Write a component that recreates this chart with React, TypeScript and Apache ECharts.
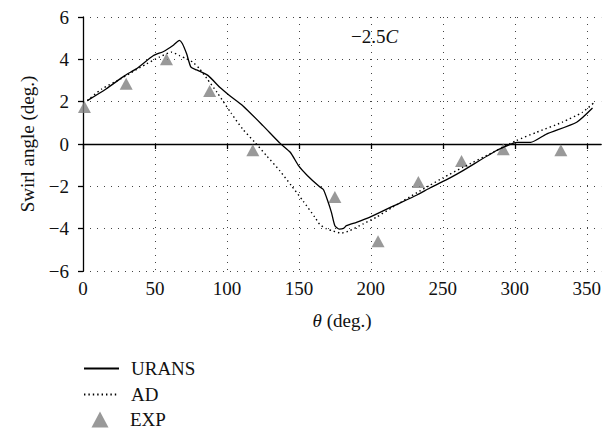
import React, { useEffect, useRef } from 'react';
import * as echarts from 'echarts';

const xTicks = [0, 50, 100, 150, 200, 250, 300, 350];

const uransTheta = [3, 16, 29, 37, 49, 56, 63, 67, 69, 72, 75, 79, 87, 95, 102, 111, 125, 137, 144, 150, 156, 164, 167, 170, 172.6, 175, 178, 181, 183, 190, 199, 215, 232, 241, 255, 264, 287, 298.6, 302, 311, 322, 343, 354];
const uransSwirl = [2.05, 2.6, 3.23, 3.55, 4.18, 4.37, 4.68, 4.9, 4.75, 4.26, 3.63, 3.5, 3.23, 2.68, 2.28, 1.81, 0.87, 0.03, -0.39, -1.05, -1.5, -2.0, -2.15, -2.68, -3.23, -3.86, -4.02, -3.99, -3.86, -3.7, -3.47, -2.95, -2.41, -2.08, -1.6, -1.26, -0.32, 0.03, 0.08, 0.08, 0.47, 1.03, 1.7];

const adTheta = [3, 13, 26, 34, 44, 53, 61.6, 67, 72, 76.5, 81, 86, 93, 103, 111, 119.4, 127.5, 136.7, 144.8, 153, 161, 164.5, 169, 174, 179.5, 185, 194.5, 204, 215, 232, 241, 250, 264, 287, 301, 315, 333, 347, 355];
const adSwirl = [2.05, 2.6, 3.07, 3.39, 3.78, 4.1, 4.34, 4.18, 4.02, 3.86, 3.55, 3.1, 2.45, 1.45, 0.7, 0.08, -0.55, -1.26, -1.97, -2.7, -3.45, -3.8, -4.0, -4.12, -4.21, -4.1, -3.78, -3.45, -2.99, -2.3, -1.95, -1.6, -1.1, -0.32, 0.16, 0.55, 1.03, 1.5, 1.95];

const expTheta = [1, 30, 58, 88, 118, 175, 205, 233, 263, 292, 332];
const expSwirl = [1.75, 2.85, 4.0, 2.5, -0.3, -2.5, -4.6, -1.8, -0.8, -0.25, -0.3];

const F = 'Liberation Serif';
const TXT = '#111';
const FS = 19;

const zip = (a: number[], b: number[]) => a.map((v, i) => [v, b[i]]);

export default function App() {
  const ref = useRef<HTMLDivElement>(null);
  useEffect(() => {
    if (!ref.current) return;
    const chart = echarts.init(ref.current, undefined, { renderer: 'svg' });
    const dotted = { color: '#444', width: 1, type: [1, 6] as any };
    const axisLineStyle = { color: '#000', width: 1.3 };
    const legendText = { fontSize: FS, color: TXT, fontFamily: F };
    chart.setOption({
      animation: false,
      textStyle: { fontFamily: F },
      grid: { left: 83, right: 2, top: 17, bottom: 161, containLabel: false },
      xAxis: [
        {
          type: 'value', min: 0, max: 360, position: 'bottom',
          axisLine: { show: false, onZero: false },
          axisTick: { show: false, customValues: xTicks },
          axisLabel: { customValues: xTicks, margin: 8, fontSize: FS, color: TXT, fontFamily: F },
          splitLine: { show: true, lineStyle: dotted },
          name: '{i|θ} (deg.)', nameLocation: 'middle', nameGap: 40,
          nameTextStyle: {
            fontSize: FS, color: TXT, fontFamily: F,
            rich: { i: { fontStyle: 'italic', fontSize: FS, fontFamily: F, color: TXT } },
          },
        },
        {
          type: 'value', min: 0, max: 360, position: 'top',
          axisLine: { show: true, onZero: true, lineStyle: axisLineStyle },
          axisTick: { show: true, inside: true, length: 5, customValues: xTicks, lineStyle: axisLineStyle },
          axisLabel: { show: false },
          splitLine: { show: false },
        },
      ],
      yAxis: {
        type: 'value', min: -6, max: 6, interval: 2,
        axisLine: { show: true, onZero: false, lineStyle: axisLineStyle },
        axisTick: { show: true, length: 5, lineStyle: axisLineStyle },
        axisLabel: {
          margin: 14, fontSize: FS, color: TXT, fontFamily: F,
          formatter: (v: number) => String(v).replace('-', '\u2212'),
        },
        splitLine: { show: true, lineStyle: dotted },
        name: 'Swirl angle (deg.)', nameLocation: 'middle', nameGap: 46,
        nameTextStyle: { fontSize: FS, color: TXT, fontFamily: F },
      },
      legend: [
        {
          data: ['URANS'], orient: 'vertical', left: 83, top: 359, padding: 0, itemWidth: 35, itemHeight: 14,
          selectedMode: false, itemStyle: { opacity: 0 }, textStyle: { ...legendText, padding: [0, 0, 0, 7] },
        },
        {
          data: ['AD'], orient: 'vertical', left: 83, top: 385, padding: 0, itemWidth: 35, itemHeight: 14,
          selectedMode: false, itemStyle: { opacity: 0 }, textStyle: { ...legendText, padding: [0, 0, 0, 7] },
        },
        {
          data: ['EXP'], orient: 'vertical', left: 91.5, top: 410, padding: 0, itemWidth: 17, itemHeight: 16,
          selectedMode: false, textStyle: { ...legendText, padding: [0, 0, 0, 16.5] },
        },
      ],
      graphic: [
        {
          type: 'text', left: 351, top: 27,
          style: {
            text: '{a|\u22122.5}{b|C}',
            rich: {
              a: { fontSize: FS, fontFamily: F, fill: TXT },
              b: { fontSize: FS, fontFamily: F, fill: TXT, fontStyle: 'italic' },
            },
          },
        },
      ],
      series: [
        {
          name: 'URANS', type: 'line', xAxisIndex: 0, data: zip(uransTheta, uransSwirl),
          symbol: 'none', smooth: 0.2, color: '#000',
          lineStyle: { color: '#000', width: 1.3 },
        },
        {
          name: 'AD', type: 'line', xAxisIndex: 0, data: zip(adTheta, adSwirl),
          symbol: 'none', smooth: 0.2, color: '#000',
          lineStyle: { color: '#000', width: 1.4, type: [1.4, 3] },
        },
        {
          name: 'EXP', type: 'scatter', xAxisIndex: 0, data: zip(expTheta, expSwirl),
          symbol: 'triangle', symbolSize: [13, 12], color: '#7f7f7f',
          itemStyle: { color: '#7f7f7f' },
        },
      ],
    });
    return () => chart.dispose();
  }, []);
  return <div ref={ref} style={{ position: 'absolute', left: 0, top: 0, width: 604, height: 432 }} />;
}
